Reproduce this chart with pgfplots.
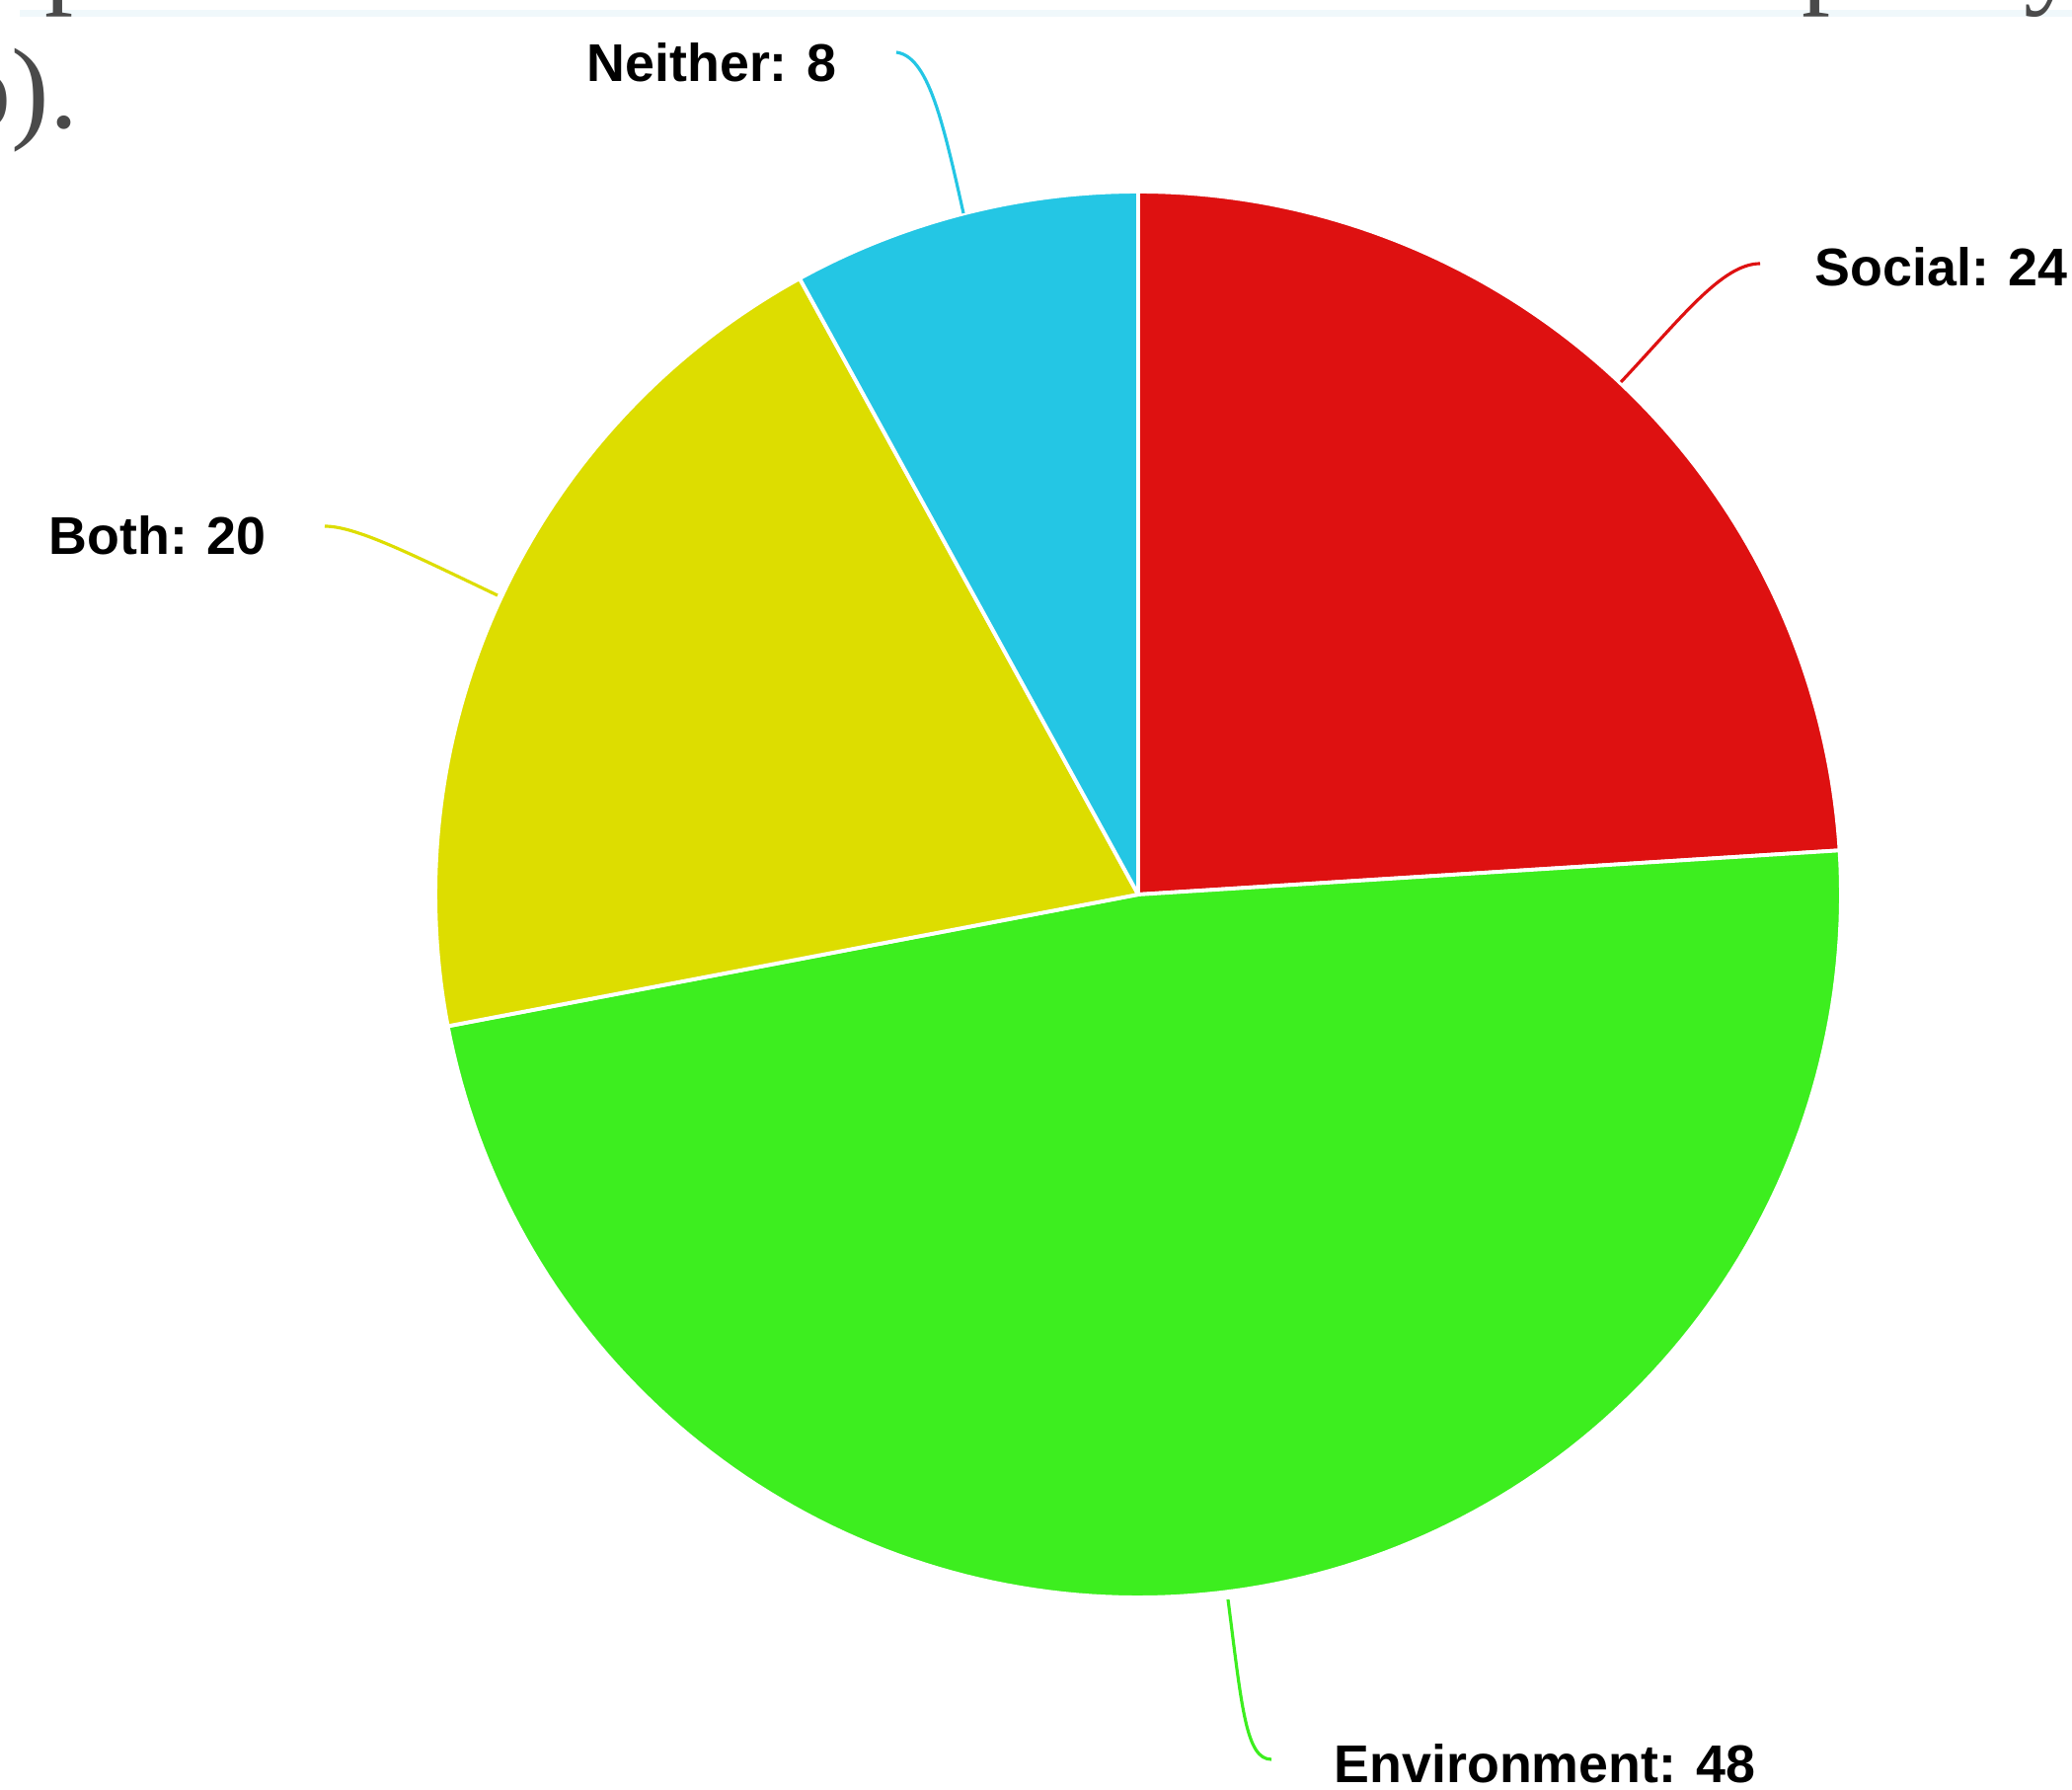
\documentclass[border=0pt]{standalone}
\usepackage{pgfplots}
\pgfplotsset{compat=1.18}
\usepackage{pgfplotstable}
\usepackage{fontspec}
\setmainfont{Liberation Sans}
\newfontfamily\seriffont{Liberation Serif}

\definecolor{cRed}{HTML}{DE1111}
\definecolor{cGreen}{HTML}{3DEE1F}
\definecolor{cYellow}{HTML}{DDDD00}
\definecolor{cCyan}{HTML}{24C6E4}
\definecolor{topgray}{HTML}{4A4A4A}
\definecolor{band}{HTML}{F0F8FB}

\newcommand\lbl{\bfseries\fontsize{15.3}{18}\selectfont}
\newcommand\serifbig{\seriffont\fontsize{33}{40}\selectfont}

\pgfplotstableread{
label value
Social 24
Environment 48
Both 20
Neither 8
}\piedata

\begin{document}
\begin{tikzpicture}
\pgfplotstablegetelem{0}{value}\of\piedata \pgfmathsetmacro\vA{\pgfplotsretval}
\pgfplotstablegetelem{1}{value}\of\piedata \pgfmathsetmacro\vB{\pgfplotsretval}
\pgfplotstablegetelem{2}{value}\of\piedata \pgfmathsetmacro\vC{\pgfplotsretval}
\pgfplotstablegetelem{3}{value}\of\piedata \pgfmathsetmacro\vD{\pgfplotsretval}
\pgfmathsetmacro\aA{90}
\pgfmathsetmacro\aB{\aA-3.6*\vA}
\pgfmathsetmacro\aC{\aB-3.6*\vB}
\pgfmathsetmacro\aD{\aC-3.6*\vC}
\pgfmathsetmacro\aE{\aD-3.6*\vD}

\path[use as bounding box, clip] (0,0) rectangle (20.99cm,18.12cm);
\begin{axis}[at={(0,0)}, anchor=south west, width=20.99cm, height=18.12cm,
  scale only axis, xmin=0, xmax=2099, ymin=0, ymax=1812, hide axis, clip=false]

% faint band at the top (screenshot artefact)
\fill[band] (axis cs:20,1795) rectangle (axis cs:2099,1802);

% slices
\addplot[draw=white, line width=1.1pt, line join=round, fill=cRed, domain=\aB:\aA, samples=90, variable=\t]
  ({1153+712*cos(\t)},{906+712*sin(\t)}) -- (axis cs:1153,906) -- cycle;
\addplot[draw=white, line width=1.1pt, line join=round, fill=cGreen, domain=\aC:\aB, samples=150, variable=\t]
  ({1153+712*cos(\t)},{906+712*sin(\t)}) -- (axis cs:1153,906) -- cycle;
\addplot[draw=white, line width=1.1pt, line join=round, fill=cYellow, domain=\aD:\aC, samples=80, variable=\t]
  ({1153+712*cos(\t)},{906+712*sin(\t)}) -- (axis cs:1153,906) -- cycle;
\addplot[draw=white, line width=1.1pt, line join=round, fill=cCyan, domain=\aE:\aD, samples=40, variable=\t]
  ({1153+712*cos(\t)},{906+712*sin(\t)}) -- (axis cs:1153,906) -- cycle;

% leader lines
\draw[cCyan, line width=0.9pt] (axis cs:976,1596) .. controls (axis cs:955,1690) and (axis cs:940,1755) .. (axis cs:908,1759);
\draw[cRed, line width=0.9pt] (axis cs:1642,1425) .. controls (axis cs:1704,1491) and (axis cs:1745,1545) .. (axis cs:1783,1545);
\draw[cYellow, line width=0.9pt] (axis cs:504,1209) .. controls (axis cs:414,1252) and (axis cs:360,1279) .. (axis cs:329,1279);
\draw[cGreen, line width=0.9pt] (axis cs:1244,192) .. controls (axis cs:1258,83) and (axis cs:1262,30) .. (axis cs:1288,30);

% labels
\node[anchor=base west, inner sep=0, font=\lbl] at (axis cs:594,1729) {Neither: 8};
\node[anchor=base west, inner sep=0, font=\lbl] at (axis cs:1838,1522) {Social: 24};
\node[anchor=base west, inner sep=0, font=\lbl] at (axis cs:49,1250) {Both: 20};
\node[anchor=base west, inner sep=0, font=\lbl] at (axis cs:1351,7) {Environment: 48};

% cut-off text of the page behind the chart
\node[anchor=base west, inner sep=0, font=\serifbig, text=topgray] at (axis cs:45,1819) {p};
\node[anchor=base west, inner sep=0, font=\serifbig, text=topgray] at (axis cs:1825,1819) {p};
\node[anchor=base west, inner sep=0, font=\serifbig, text=topgray] at (axis cs:2050,1819) {y};
\node[anchor=base east, inner sep=0, font=\serifbig, text=topgray] at (axis cs:80,1682) {o).};
\end{axis}
\end{tikzpicture}
\end{document}
